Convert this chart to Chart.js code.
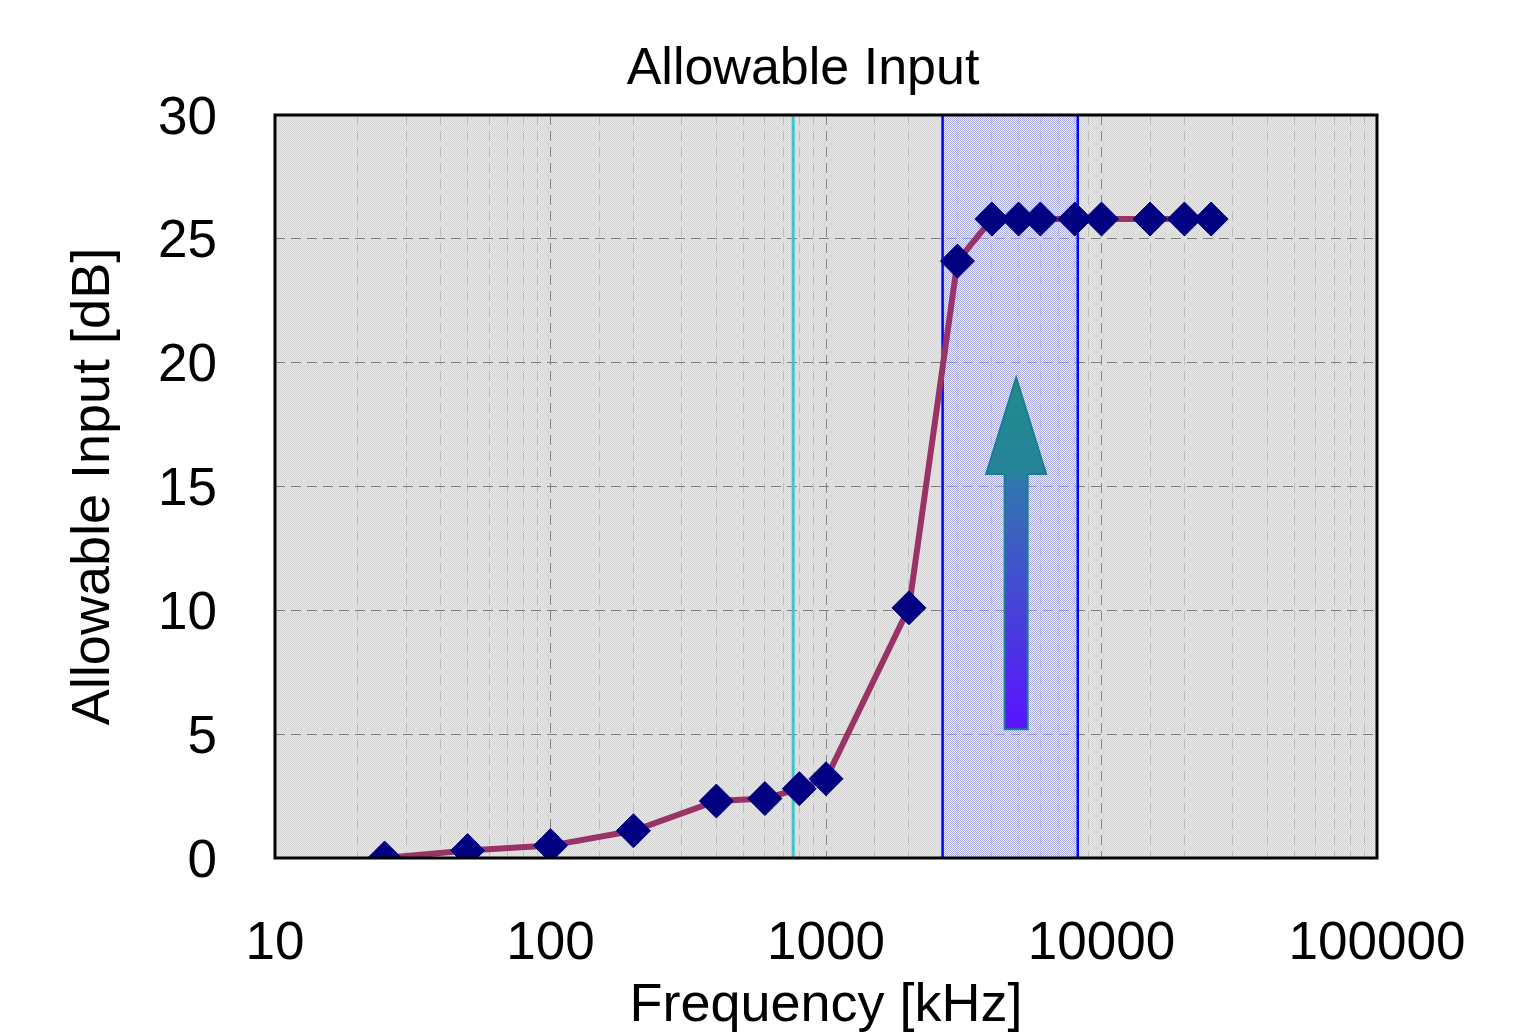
<!DOCTYPE html>
<html>
<head>
<meta charset="utf-8">
<script src="https://cdn.jsdelivr.net/npm/chart.js@4/dist/chart.umd.min.js"></script>
<style>
  html, body { margin: 0; padding: 0; background: #ffffff; }
  #wrap { width: 1539px; height: 1033px; }
</style>
</head>
<body>
<div id="wrap"><canvas id="c" width="1539" height="1033"></canvas></div>
<script>
// ---- data ----
const frequencies = [25, 50, 100, 200, 400, 600, 800, 1000, 2000, 3000, 4000, 5000, 6000, 8000, 10000, 15000, 20000, 25000];
const allowableInput = [0, 0.3, 0.5, 1.1, 2.3, 2.4, 2.8, 3.2, 10.1, 24.1, 25.8, 25.8, 25.8, 25.8, 25.8, 25.8, 25.8, 25.8];
const yTicks = [0, 5, 10, 15, 20, 25, 30];
const xRange = [10, 100000];
const cyanLineFreq = 760;
const bandRange = [2650, 8200];
const arrowFreq = 4900;
const arrowValues = { tip: 19.4, headBase: 15.5, bottom: 5.2 };
const titleText = 'Allowable Input';
const xTitle = 'Frequency [kHz]';
const yTitle = 'Allowable Input [dB]';

const FONT = '"Liberation Sans", Arial, Helvetica, sans-serif';

function isPow10(v) {
  const l = Math.log10(v);
  return Math.abs(l - Math.round(l)) < 1e-9;
}

function makePattern(ctx, c1, c2) {
  const p = document.createElement('canvas');
  p.width = 2; p.height = 2;
  const pc = p.getContext('2d');
  pc.fillStyle = c1; pc.fillRect(0, 0, 2, 2);
  pc.fillStyle = c2; pc.fillRect(0, 0, 1, 1); pc.fillRect(1, 1, 1, 1);
  return ctx.createPattern(p, 'repeat');
}

const decorPlugin = {
  id: 'decor',
  beforeDraw(chart) {
    const { ctx, chartArea: a } = chart;
    ctx.save();
    ctx.fillStyle = makePattern(ctx, '#e6e6e6', '#d6d6d6');
    ctx.fillRect(a.left, a.top, a.right - a.left, a.bottom - a.top);
    ctx.restore();
  },
  beforeDatasetsDraw(chart) {
    const { ctx, chartArea: a, scales } = chart;
    const xs = scales.x;
    ctx.save();
    // blue band
    const bl = xs.getPixelForValue(bandRange[0]);
    const br = xs.getPixelForValue(bandRange[1]);
    ctx.fillStyle = makePattern(ctx, 'rgba(255,255,255,0.35)', 'rgba(60,60,255,0.35)');
    ctx.fillRect(bl, a.top, br - bl, a.bottom - a.top);
    ctx.strokeStyle = '#0000ff';
    ctx.lineWidth = 2.5;
    ctx.beginPath();
    ctx.moveTo(bl, a.top); ctx.lineTo(bl, a.bottom);
    ctx.moveTo(br, a.top); ctx.lineTo(br, a.bottom);
    ctx.stroke();
    // cyan line
    const cx = xs.getPixelForValue(cyanLineFreq);
    ctx.strokeStyle = '#3cc8c8';
    ctx.lineWidth = 3;
    ctx.beginPath();
    ctx.moveTo(cx, a.top); ctx.lineTo(cx, a.bottom);
    ctx.stroke();
    ctx.restore();
  },
  afterDatasetsDraw(chart) {
    const { ctx, scales } = chart;
    const xs = scales.x, ys = scales.y;
    const ax = xs.getPixelForValue(arrowFreq);
    const yTip = ys.getPixelForValue(arrowValues.tip);
    const yHead = ys.getPixelForValue(arrowValues.headBase);
    const yBot = ys.getPixelForValue(arrowValues.bottom);
    const hw = 30, sw = 11.5;
    ctx.save();
    const g = ctx.createLinearGradient(0, yTip, 0, yBot);
    const hf = (yHead - yTip) / (yBot - yTip);
    g.addColorStop(0, '#1f8a8c');
    g.addColorStop(hf, '#26849a');
    g.addColorStop(hf + 0.02, '#3276b0');
    g.addColorStop(1, '#5a12ff');
    ctx.beginPath();
    ctx.moveTo(ax, yTip);
    ctx.lineTo(ax + hw, yHead);
    ctx.lineTo(ax + sw, yHead);
    ctx.lineTo(ax + sw, yBot);
    ctx.lineTo(ax - sw, yBot);
    ctx.lineTo(ax - sw, yHead);
    ctx.lineTo(ax - hw, yHead);
    ctx.closePath();
    ctx.fillStyle = g;
    ctx.fill();
    ctx.lineWidth = 2;
    ctx.strokeStyle = '#1b7f86';
    ctx.stroke();
    ctx.restore();
  },
  afterDraw(chart) {
    const { ctx, chartArea: a } = chart;
    ctx.save();
    ctx.strokeStyle = '#000000';
    ctx.lineWidth = 3;
    ctx.strokeRect(a.left, a.top, a.right - a.left, a.bottom - a.top);
    ctx.fillStyle = '#000000';
    ctx.font = '52px ' + FONT;
    ctx.textAlign = 'center';
    ctx.textBaseline = 'middle';
    ctx.fillText(titleText, 803, 70);
    ctx.restore();
  }
};

const ctx = document.getElementById('c').getContext('2d');
new Chart(ctx, {
  type: 'line',
  data: {
    datasets: [{
      data: frequencies.map((f, i) => ({ x: f, y: allowableInput[i] })),
      borderColor: '#993366',
      borderWidth: 6,
      pointStyle: 'rectRot',
      pointRadius: 17,
      pointBackgroundColor: '#000080',
      pointBorderColor: '#000080',
      pointBorderWidth: 1,
      tension: 0,
      fill: false
    }]
  },
  options: {
    responsive: false,
    animation: false,
    events: [],
    layout: { padding: { top: 115, right: 162, bottom: 0, left: 0 } },
    plugins: { legend: { display: false }, title: { display: false }, tooltip: { enabled: false } },
    scales: {
      x: {
        type: 'logarithmic',
        min: xRange[0],
        max: xRange[1],
        afterFit(s) { s.height = 175; },
        border: { display: false, dash: [10, 6] },
        grid: {
          drawTicks: false,
          lineWidth: 1,
          color: (c) => (c.tick && isPow10(c.tick.value)) ? '#858585' : '#bdbdbd'
        },
        ticks: {
          autoSkip: false,
          maxRotation: 0,
          minRotation: 0,
          padding: 55,
          color: '#000000',
          font: { family: FONT, size: 53 },
          callback: (v) => isPow10(v) ? String(Math.round(v)) : ''
        },
        title: {
          display: true,
          text: xTitle,
          color: '#000000',
          font: { family: FONT, size: 54, lineHeight: 1 },
          padding: { top: 0, bottom: 0 }
        }
      },
      y: {
        min: 0,
        max: 30,
        afterFit(s) { s.width = 275; },
        afterBuildTicks(s) { s.ticks = yTicks.map(v => ({ value: v })); },
        border: { display: false, dash: [10, 6] },
        grid: { drawTicks: false, lineWidth: 1, color: '#808080' },
        ticks: {
          padding: 58,
          labelOffset: 4,
          color: '#000000',
          font: { family: FONT, size: 53 }
        },
        title: {
          display: true,
          text: yTitle,
          color: '#000000',
          font: { family: FONT, size: 54, lineHeight: 1.2 },
          padding: { top: 62, bottom: 0 }
        }
      }
    }
  },
  plugins: [decorPlugin]
});
</script>
</body>
</html>
